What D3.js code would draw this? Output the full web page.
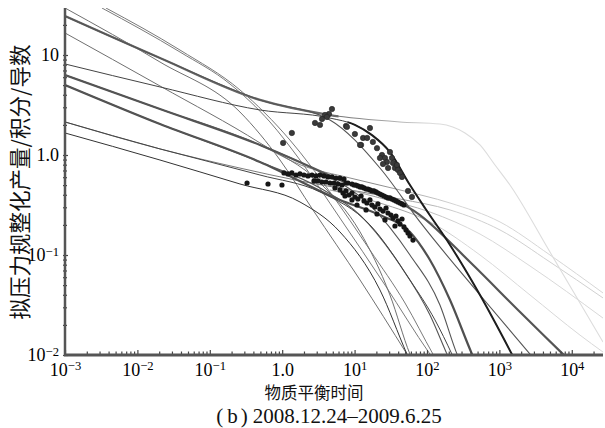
<!DOCTYPE html>
<html><head><meta charset="utf-8">
<script src="https://cdn.jsdelivr.net/npm/d3@7"></script>
<style>
body{margin:0;background:#fff}
svg{display:block;background:#fff}
</style>
</head><body>
<svg id="chart" width="605" height="428"></svg>
<script>
// Type curves: [material balance time, normalized rate / integral / derivative]
const curveA = [[0.001,29.5],[0.0205,8.51],[0.261,2.69],[0.933,0.891],[2.66,0.282],[11.9,0.0562],[52.9,0.0102],[80,0.00631]];
const curveB = [[0.001,24.5],[0.0205,9.33],[0.493,3.55],[4.57,2.51],[42.4,2.14],[151,2.04],[335,1.66],[540,1.26],[870,0.794],[1400,0.501],[5000,0.107],[27000,0.0135]];
const curveC = [[0.00324,29.5],[0.0388,10.7],[0.190,5.13],[0.677,2.14],[1.76,0.891],[6.28,0.234],[26.3,0.0501],[110,0.0102],[151,0.00741]];
const curveC2 = [[0.00368,29.5],[0.0388,11.2],[0.261,4.47],[1.28,1.41],[4.57,0.427],[16.3,0.112],[49.7,0.0331],[121,0.0102],[177,0.00631]];
const curveD = [[0.001,24.5],[0.0205,9.33],[0.493,3.55],[4.57,2.24],[22.4,0.741],[80,0.214],[540,0.0398],[2650,0.0102],[4266,0.00676]];
const curveE = [[0.001,16.6],[0.0205,4.90],[0.493,1.32],[3.33,0.525],[11.9,0.170],[30.8,0.0398],[58.2,0.0102],[75.1,0.00676]];
const curveF = [[0.001,8.13],[0.0205,4.79],[0.493,2.82],[4.57,2.34],[10.1,2.0],[17.4,1.58],[30.8,1.07],[58.2,0.501],[93.8,0.295],[208,0.126],[540,0.0398],[1641,0.00891]];
const curveG = [[0.001,6.31],[0.0205,2.88],[0.493,1.26],[6.28,0.562],[80,0.251],[393,0.0851],[1930,0.0269],[7560,0.0102],[13000,0.00692]];
const curveH = [[0.001,5.01],[0.0205,2.04],[0.493,0.851],[6.28,0.355],[22.4,0.251],[58.2,0.170],[110,0.0891],[208,0.0355],[419,0.0102],[540,0.00676]];
const curveI = [[0.001,2.14],[0.0205,1.15],[0.493,0.631],[3.33,0.427],[16.3,0.2],[58.2,0.0562],[129,0.0224],[221,0.0102],[286,0.00676]];
const curveJ = [[0.001,1.66],[0.0205,0.891],[0.261,0.513],[1.76,0.339],[6.28,0.170],[22.4,0.0447],[52.9,0.0102],[68.2,0.00676]];
const curveK = [[0.001,6.31],[0.0205,2.88],[0.493,1.26],[3.33,0.676],[16.3,0.316],[58.2,0.1],[151,0.0316],[260,0.0102],[335,0.00676]];
const curveL = [[0.001,5.01],[0.0205,2.04],[0.493,0.851],[3.33,0.468],[11.9,0.251],[42.4,0.0794],[110,0.0251],[189,0.0102],[244,0.00676]];
const curveM1 = [[0.001,6.31],[0.0205,2.88],[0.493,1.26],[1.76,0.80],[8.63,0.589],[42.4,0.447],[208,0.331],[1020,0.214],[5000,0.1],[27000,0.0417]];
const curveM2 = [[0.001,2.14],[0.0205,1.15],[0.261,0.74],[1.76,0.550],[8.63,0.447],[42.4,0.363],[208,0.282],[1020,0.178],[5000,0.0851],[27000,0.0372]];
const curveM3 = [[4.57,0.501],[22.4,0.372],[110,0.269],[540,0.162],[2650,0.0776],[27000,0.0234]];
const curveM4 = [[4.57,0.447],[22.4,0.331],[110,0.214],[540,0.1],[2650,0.0398],[13000,0.0158],[27000,0.0107]];

// Production data points
const upperPoints = [[4.87,2.88],[4.43,2.57],[3.90,2.51],[4.15,2.40],[3.55,2.29],[2.84,2.09],[3.33,2.0],[7.60,1.95],[7.85,1.91],[16.3,1.86],[10.1,1.62],[13.1,1.48],[14.9,1.48],[12.3,1.26],[11.9,1.26],[17.9,1.35],[20.4,1.17],[23.9,1.0],[30.8,1.07],[26.3,0.933],[22.4,0.933],[28.0,0.851],[32.8,0.933],[33.9,0.832],[24.7,0.813],[29.0,0.741],[36.1,0.741],[38.4,0.794],[39.7,0.708],[42.4,0.661],[45.2,0.603],[1.36,1.66],[1.03,1.32],[54.7,0.437],[62.0,0.380]];
const lowerPoints = [[0.327,0.525],[0.637,0.513],[0.993,0.501],
  [1.06,0.661],[1.20,0.646],[1.36,0.661],[1.55,0.631],[1.76,0.646],[2.00,0.631],[2.27,0.617],
  [2.58,0.631],[2.93,0.617],[3.33,0.631],[3.78,0.617],[4.29,0.603],[4.88,0.603],[5.53,0.589],[6.28,0.589],[7.14,0.575],
  [2.75,0.550],[3.12,0.550],[3.55,0.537],[4.03,0.537],[4.57,0.525],[5.19,0.525],[5.90,0.513],[6.70,0.501],
  [7.60,0.525],[8.11,0.525],[9.20,0.513],[9.82,0.501],[10.4,0.501],[11.1,0.490],[11.9,0.479],[12.6,0.479],[13.5,0.468],[14.4,0.457],[15.3,0.457],[16.3,0.447],[17.4,0.437],[18.5,0.437],[19.8,0.427],[21.0,0.417],[22.4,0.407],[23.9,0.398],[25.5,0.389],[27.2,0.380],[28.9,0.372],[30.8,0.372],[32.9,0.363],[35.0,0.355],[37.3,0.347],[39.7,0.339],[42.4,0.331],[45.2,0.324],[48.1,0.316],
  [5.36,0.468],[6.28,0.447],[6.92,0.417],[7.60,0.437],[8.37,0.398],[9.20,0.417],[10.1,0.380],[11.1,0.363],[12.3,0.389],[13.5,0.347],[14.8,0.331],[16.3,0.355],[17.4,0.316],[19.1,0.302],[21.0,0.324],[22.4,0.288],[24.7,0.275],[27.2,0.295],[28.9,0.263],[31.8,0.251],[33.9,0.234],[37.3,0.245],[39.7,0.219],[42.4,0.204],[45.2,0.229],[48.1,0.191],[51.3,0.178],[54.7,0.166],[58.2,0.155],[64.1,0.141],[26.3,0.224],[20.4,0.257],[14.4,0.282],[36.1,0.195],[10.8,0.316],[9.20,0.355],[7.36,0.389]];

// Axis ticks and titles
const xMajor = [1e-3,1e-2,1e-1,1,10,100,1000,10000];
const yMajor = [0.01,0.1,1,10];
const xTitle = "物质平衡时间";
const yTitle = "拟压力规整化产量/积分/导数";
const panelLetter = "b";
const panelDates = "2008.12.24–2009.6.25";

// Drawing styles per curve (fade: gradient toward a light tint; heavy: thicker overlay over an x range)
const curveStyles = [
  {data: curveM1, color: "#8a8a8a", width: 1, fade: [20, 250, "#d6d6d6"]},
  {data: curveM2, color: "#7a7a7a", width: 1, fade: [20, 250, "#d0d0d0"]},
  {data: curveM3, color: "#a0a0a0", width: 1, fade: [40, 300, "#d8d8d8"]},
  {data: curveM4, color: "#a0a0a0", width: 1, fade: [40, 300, "#d8d8d8"]},
  {data: curveB, color: "#7a7a7a", width: 1.1, fade: [8, 120, "#dcdcdc"], heavy: [0.001, 6, "#6a6a6a", 2.3]},
  {data: curveA, color: "#707070", width: 1},
  {data: curveC, color: "#7a7a7a", width: 1},
  {data: curveC2, color: "#7a7a7a", width: 1},
  {data: curveD, color: "#555", width: 1.1},
  {data: curveE, color: "#707070", width: 1},
  {data: curveG, color: "#555", width: 2.2},
  {data: curveK, color: "#555", width: 1.1},
  {data: curveH, color: "#505050", width: 2.2},
  {data: curveL, color: "#555", width: 1.1},
  {data: curveI, color: "#444", width: 1},
  {data: curveJ, color: "#333", width: 1},
  {data: curveF, color: "#444", width: 1, heavy: [8, 27000, "#1e1e1e", 2]}
];

const svg = d3.select("#chart");
const x = d3.scaleLog().domain([0.001, 27000]).range([65, 603]);
const y = d3.scaleLog().domain([0.01, 29.5]).range([355, 8]);

const defs = svg.append("defs");
defs.append("clipPath").attr("id", "plotClip")
  .append("rect").attr("x", 65).attr("y", 8).attr("width", 538).attr("height", 347);

const line = d3.line().x(d => x(d[0])).y(d => y(d[1])).curve(d3.curveMonotoneX);

const plot = svg.append("g").attr("clip-path", "url(#plotClip)");
curveStyles.forEach((s, i) => {
  let stroke = s.color;
  if (s.fade) {
    const id = "fade" + i;
    const g = defs.append("linearGradient").attr("id", id)
      .attr("gradientUnits", "userSpaceOnUse")
      .attr("x1", x(s.fade[0])).attr("x2", x(s.fade[1])).attr("y1", 0).attr("y2", 0);
    g.append("stop").attr("offset", 0).attr("stop-color", s.color);
    g.append("stop").attr("offset", 1).attr("stop-color", s.fade[2]);
    stroke = "url(#" + id + ")";
  }
  plot.append("path").datum(s.data)
    .attr("d", line).attr("fill", "none")
    .attr("stroke", stroke).attr("stroke-width", s.width)
    .attr("stroke-linejoin", "round");
  if (s.heavy) {
    const cid = "heavy" + i;
    defs.append("clipPath").attr("id", cid).append("rect")
      .attr("x", x(s.heavy[0])).attr("y", 0)
      .attr("width", x(s.heavy[1]) - x(s.heavy[0])).attr("height", 428);
    plot.append("g").attr("clip-path", "url(#" + cid + ")")
      .append("path").datum(s.data)
      .attr("d", line).attr("fill", "none")
      .attr("stroke", s.heavy[2]).attr("stroke-width", s.heavy[3])
      .attr("stroke-linejoin", "round");
  }
});

plot.append("g").selectAll("circle").data(lowerPoints).join("circle")
  .attr("cx", d => x(d[0])).attr("cy", d => y(d[1])).attr("r", 2.6).attr("fill", "#161616");
plot.append("g").selectAll("circle").data(upperPoints).join("circle")
  .attr("cx", d => x(d[0])).attr("cy", d => y(d[1])).attr("r", 2.7)
  .attr("fill", "#3a3a3a").attr("stroke", "#222").attr("stroke-width", 0.6);

// minor tick values 2..9 per decade
function minors(lo, hi) {
  const out = [];
  for (let e = Math.floor(Math.log10(lo)); e <= Math.ceil(Math.log10(hi)); e++)
    for (let m = 2; m <= 9; m++) { const v = m * Math.pow(10, e); if (v > lo && v < hi) out.push(v); }
  return out;
}

// decade labels: 1.0 for unity, optionally plain "10" for ten, else 10 with exponent
function expLabel(plainTen) {
  return function(sel) {
    sel.each(function(d) {
      const t = d3.select(this);
      t.text(null);
      const e = Math.round(Math.log10(d));
      if (e === 0) { t.text("1.0"); return; }
      if (e === 1 && plainTen) { t.text("10"); return; }
      t.append("tspan").text("10");
      t.append("tspan").attr("dy", "-0.42em").attr("font-size", "0.7em")
        .text(e < 0 ? "\u2212" + (-e) : String(e));
    });
  };
}

const tickFont = "'Liberation Serif','Times New Roman',serif";

// x axis
const gxMinor = svg.append("g").attr("transform", "translate(0,355)")
  .call(d3.axisBottom(x).tickValues(minors(0.001, 27000)).tickSizeInner(-3.5).tickSizeOuter(0).tickFormat(""));
const gx = svg.append("g").attr("transform", "translate(0,355)")
  .call(d3.axisBottom(x).tickValues(xMajor).tickSizeInner(-5).tickSizeOuter(0).tickPadding(8));
gx.selectAll(".tick text").call(expLabel(false));

// y axis
const gyMinor = svg.append("g").attr("transform", "translate(63,0)")
  .call(d3.axisLeft(y).tickValues(minors(0.01, 29.5)).tickSizeInner(-4).tickSizeOuter(0).tickFormat(""));
const gy = svg.append("g").attr("transform", "translate(63,0)")
  .call(d3.axisLeft(y).tickValues(yMajor).tickSizeInner(-5).tickSizeOuter(0).tickPadding(4));
gy.selectAll(".tick text").call(expLabel(true));

[gxMinor, gx, gyMinor, gy].forEach(g => {
  g.select(".domain").remove();
  g.selectAll(".tick line").attr("stroke", "#444").attr("stroke-width", 1.2);
  g.selectAll(".tick text").attr("fill", "#000").attr("font-size", 18).attr("font-family", tickFont);
});
gx.selectAll(".tick text").attr("dy", "0.71em");

// axis lines
svg.append("line").attr("x1", x(0.001)).attr("x2", x(0.001)).attr("y1", y(29.5)).attr("y2", y(0.01) + 1)
  .attr("stroke", "#555").attr("stroke-width", 2.5);
svg.append("line").attr("x1", x(0.001) - 1).attr("x2", x(27000)).attr("y1", y(0.01)).attr("y2", y(0.01))
  .attr("stroke", "#555").attr("stroke-width", 3);

// titles
svg.append("text").attr("x", 314).attr("y", 399).attr("text-anchor", "middle")
  .attr("font-family", "'Noto Sans CJK SC',sans-serif").attr("font-size", 16.5).attr("fill", "#111")
  .text(xTitle);
svg.append("text").attr("transform", "translate(28,182) rotate(-90)").attr("text-anchor", "middle")
  .attr("font-family", "'Noto Sans CJK SC',sans-serif").attr("font-size", 21.5).attr("fill", "#111")
  .text(yTitle);

// panel caption: wide-set parentheses around the panel letter, then the date range
const cap = svg.append("text").attr("x", 329).attr("y", 423).attr("text-anchor", "middle")
  .attr("font-family", "'Liberation Serif',serif").attr("font-size", 21).attr("fill", "#111");
cap.append("tspan").text("(");
cap.append("tspan").attr("dx", 4).text(panelLetter);
cap.append("tspan").attr("dx", 3).text(")");
cap.append("tspan").attr("dx", 5).text(panelDates);
</script>
</body></html>
